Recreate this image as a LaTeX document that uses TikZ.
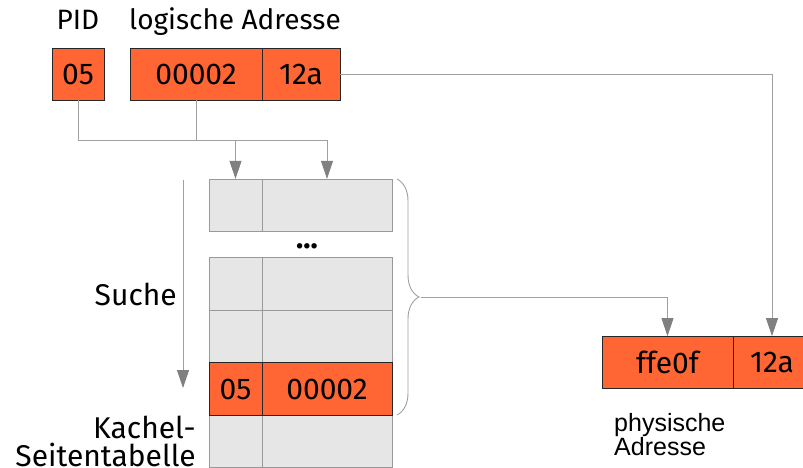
\documentclass[tikz,border=0pt]{standalone}
\usepackage{fontspec}
\setmainfont{Fira Sans}
\newfontfamily\physfont{Liberation Sans}
\usetikzlibrary{arrows.meta,decorations.pathreplacing}
\definecolor{orng}{HTML}{FF6633}
\definecolor{cellgray}{HTML}{E6E6E6}
\definecolor{linegray}{HTML}{A0A0A0}
\definecolor{headgray}{HTML}{808080}
\begin{document}
\begin{tikzpicture}[x=1pt,y=-1pt,
  cell/.style={draw=#1,line width=0.8pt,minimum height=52pt,inner sep=0pt,font=\fontsize{30}{34}\selectfont},
  ocell/.style={cell=black!85,fill=orng},
  gcell/.style={cell=black!40,fill=cellgray,minimum height=52.5pt},
  toplbl/.style={font=\fontsize{28}{32}\selectfont,inner sep=0pt,anchor=base},
  sidelbl/.style={font=\fontsize{30}{28}\selectfont,inner sep=0pt,align=right},
  conn/.style={draw=linegray,line width=0.9pt},
  arr/.style={conn,-{Triangle[length=18pt,width=12pt,fill=headgray,color=headgray]}}
]
\useasboundingbox (0,0) rectangle (803,468);
% labels
\node[toplbl] (pidl) at (78,30) {PID};
\node[toplbl] (logl) at (235,30) {logische Adresse};
% logical address
\node[ocell,minimum width=52pt] (pid) at (78,74) {05};
\node[ocell,minimum width=132pt] (la) at (196,74) {00002};
\node[ocell,minimum width=78pt] (lb) at (301,74) {12a};
% table
\foreach \r/\y in {1/205.5,2/284,3/336.5,5/441.5}{
  \node[gcell,minimum width=53pt] (t\r a) at (235.5,\y) {};
  \node[gcell,minimum width=130pt] (t\r b) at (327,\y) {};
}
\node[ocell,minimum width=53pt,minimum height=52.5pt] (t4a) at (235.5,389) {05};
\node[ocell,minimum width=130pt,minimum height=52.5pt] (t4b) at (327,389) {00002};
\node[font=\fontsize{30}{30}\selectfont\bfseries,inner sep=0pt,anchor=base] (dots) at (307,248) {...};
% physical address
\node[ocell,minimum width=131pt] (pa) at (667.5,362.5) {ffe0f};
\node[ocell,minimum width=78pt] (pb) at (772,362.5) {12a};
\node[inner sep=0pt,align=left,anchor=north west,font=\physfont\fontsize{25}{23}\selectfont] (phl) at (614,413) {physische\\Adresse};
% side labels
\node[sidelbl,anchor=east] (such) at (177,294) {Suche};
\node[sidelbl,anchor=north east] (kach) at (196,416) {Kachel-\\Seitentabelle};
\coordinate (s1) at (183,180);
\coordinate (s2) at (183,388);
\draw[arr] (s1) -- (s2);
% connectors
\coordinate (j) at (0,140);
\draw[conn] (pid.south) -- (pid.south |- j) -- (j -| la.south);
\draw[arr] (la.south) -- (la.south |- j) -| (t1a.north);
\draw[arr] (la.south |- j) -| (t1b.north);
\draw[arr] (lb.east) -| (pb.north);
% brace
\coordinate (b1) at (397,179);
\coordinate (b2) at (397,415);
\draw[draw=linegray,line width=0.9pt,decorate,decoration={brace,amplitude=22pt}] (b1) -- (b2);
\coordinate (tip) at (421,297);
\draw[arr] (tip) -| (pa.north);
\end{tikzpicture}
\end{document}
